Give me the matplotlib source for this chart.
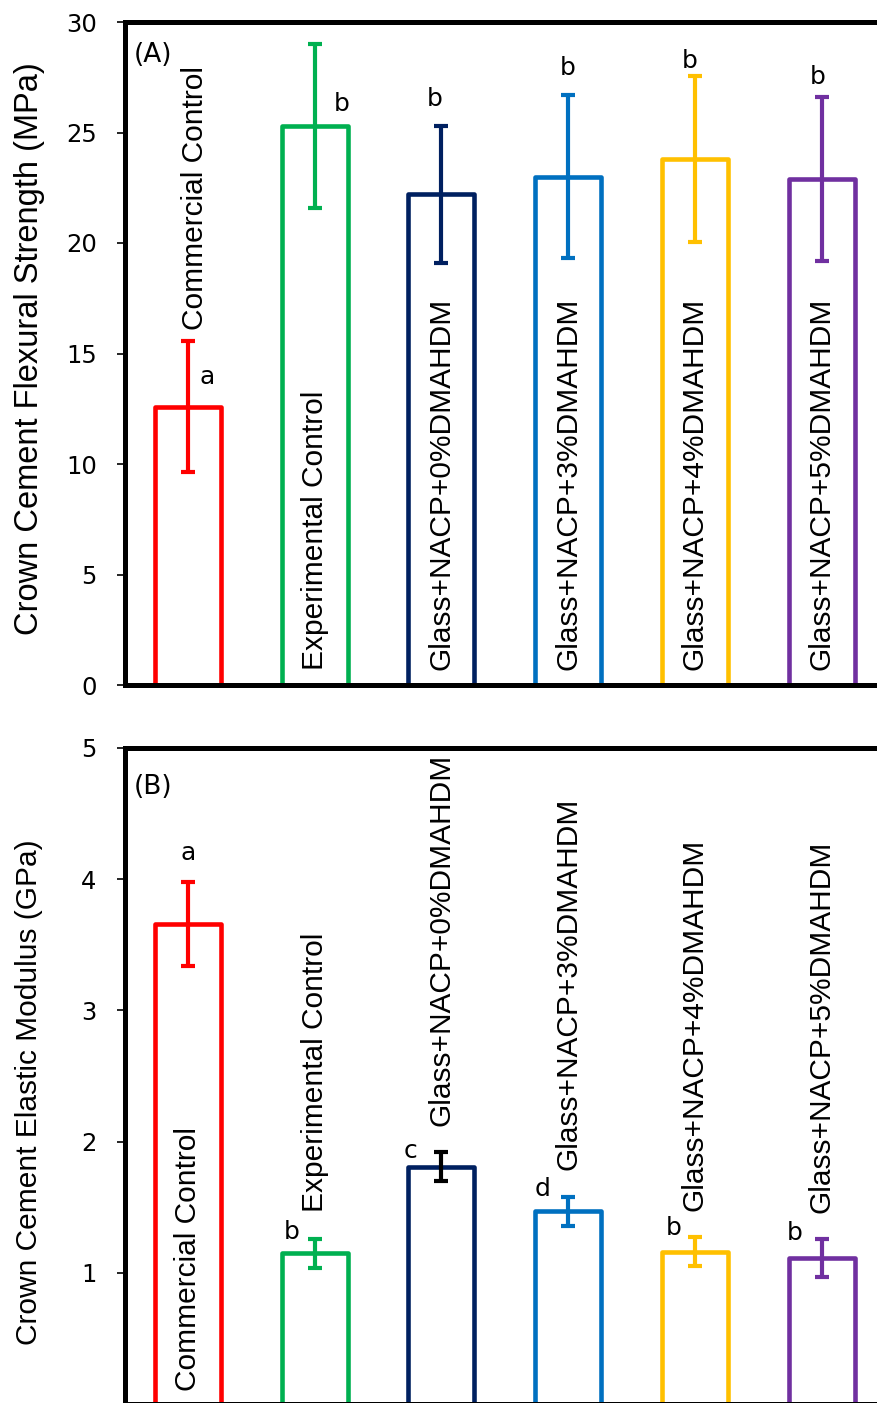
import numpy as np
import matplotlib
matplotlib.use('Agg')
import matplotlib.pyplot as plt

groups = ['Commercial Control', 'Experimental Control',
          'Glass+NACP+0%DMAHDM', 'Glass+NACP+3%DMAHDM',
          'Glass+NACP+4%DMAHDM', 'Glass+NACP+5%DMAHDM']
colors = ['#FF0000', '#00B050', '#002060', '#0070C0', '#FFC000', '#7030A0']

# (A) flexural strength, MPa
flex_mean = [12.6, 25.3, 22.2, 23.0, 23.8, 22.9]
flex_sd = [2.95, 3.7, 3.1, 3.7, 3.75, 3.7]
flex_letters = ['a', 'b', 'b', 'b', 'b', 'b']

# (B) elastic modulus, GPa
mod_mean = [3.66, 1.15, 1.81, 1.47, 1.16, 1.11]
mod_sd = [0.32, 0.11, 0.11, 0.11, 0.11, 0.145]
mod_letters = ['a', 'b', 'c', 'd', 'b', 'b']

W, H = 877, 1403
fig = plt.figure(figsize=(W / 100, H / 100), dpi=100)


def px_axes(left, top, right, bottom):
    return fig.add_axes([left / W, 1 - bottom / H, (right - left) / W, (bottom - top) / H])


axA = px_axes(124.5, 22, 885, 685)
axB = px_axes(124.5, 748, 885, 1404)

x = np.arange(len(groups))
label_font = dict(family=['Liberation Sans', 'DejaVu Sans'], fontsize=21.5)
letter_font = dict(family='DejaVu Sans', fontsize=18)


def draw(ax, mean, sd, errcolors):
    ax.bar(x, mean, width=0.52, facecolor='white', edgecolor=colors, linewidth=3.3,
           joinstyle='round', zorder=2)
    for i in range(len(x)):
        ax.errorbar(x[i], mean[i], yerr=sd[i], fmt='none', ecolor=errcolors[i],
                    elinewidth=3, capsize=4.8, capthick=3, zorder=3)
    ax.set_xlim(-0.5, 5.5)
    ax.set_xticks([])
    for s in ['left', 'top', 'bottom', 'right']:
        ax.spines[s].set_linewidth(3.6)
    ax.tick_params(axis='y', length=6, width=1.2, pad=14, labelsize=17.5)


# panel A
draw(axA, flex_mean, flex_sd, colors)
axA.set_ylim(0, 30)
axA.set_yticks(range(0, 31, 5))
for t in axA.get_yticklabels():
    t.set_family('DejaVu Sans')
axA.set_ylabel('Crown Cement Flexural Strength (MPa)', family='Liberation Sans', fontsize=23.5)
axA.yaxis.set_label_coords(-0.105, 0.508)
axA.text(0.012, 0.95, '(A)', transform=axA.transAxes, fontsize=19, family='DejaVu Sans',
         va='center', ha='left')

# labels above the commercial bar, inside the others
axA.text(x[0] + 0.06, flex_mean[0] + flex_sd[0] + 0.5, groups[0], rotation=90,
         ha='center', va='bottom', **label_font)
for i in range(1, len(groups)):
    axA.text(x[i], 0.7, groups[i], rotation=90, ha='center', va='bottom', **label_font)

flex_dx = [0.15, 0.21, -0.05, 0.0, -0.04, -0.03]
flex_dy = [-1.6, -2.7, 1.2, 1.2, 0.7, 0.9]
for i in range(len(groups)):
    ax_y = flex_mean[i] + flex_sd[i] + flex_dy[i]
    axA.text(x[i] + flex_dx[i], ax_y, flex_letters[i], ha='center', va='center', **letter_font)

# panel B
err_b = list(colors)
err_b[2] = 'black'
draw(axB, mod_mean, mod_sd, err_b)
axB.set_ylim(0, 5)
axB.set_yticks([1, 2, 3, 4, 5])
for t in axB.get_yticklabels():
    t.set_family('DejaVu Sans')
axB.set_ylabel('Crown Cement Elastic Modulus (GPa)', family='Liberation Sans', fontsize=21.5)
axB.yaxis.set_label_coords(-0.107, 0.476)
axB.text(0.012, 0.94, '(B)', transform=axB.transAxes, fontsize=19, family='DejaVu Sans',
         va='center', ha='left')

axB.text(x[0], 0.1, groups[0], rotation=90, ha='center', va='bottom', **label_font)
for i in range(1, len(groups)):
    axB.text(x[i], mod_mean[i] + mod_sd[i] + 0.2, groups[i], rotation=90,
             ha='center', va='bottom', **label_font)

mod_dx = [0.0, -0.18, -0.24, -0.2, -0.17, -0.21]
mod_dy = [0.22, 0.05, 0.01, 0.06, 0.07, 0.05]
for i in range(len(groups)):
    axB.text(x[i] + mod_dx[i], mod_mean[i] + mod_sd[i] + mod_dy[i], mod_letters[i],
             ha='center', va='center', **letter_font)

fig.savefig('out.png', dpi=100)
